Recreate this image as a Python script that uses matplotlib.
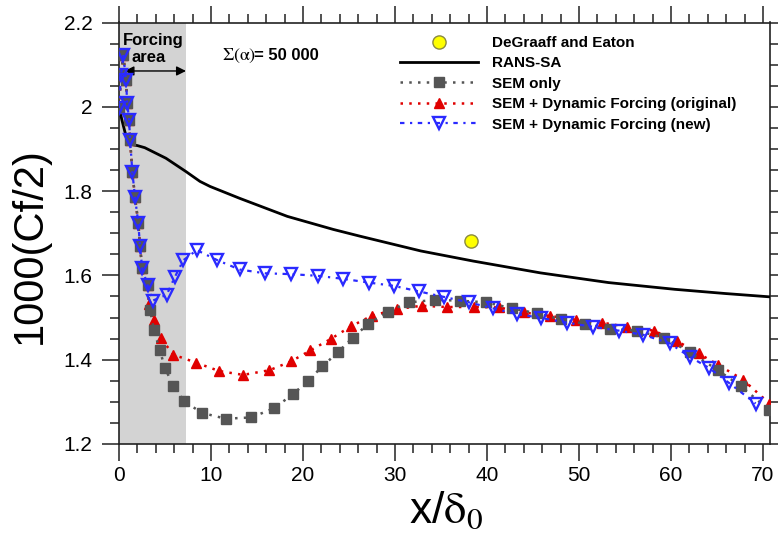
import matplotlib
matplotlib.use("Agg")
import matplotlib.pyplot as plt
import numpy as np

plt.rcParams['font.family'] = ['Liberation Sans', 'DejaVu Sans']
plt.rcParams['mathtext.fontset'] = 'stix'

# ---------------- data ----------------
# shared inlet points (all three LES series overlap here)
x_inlet = [0.0, 0.22, 0.47, 0.75, 0.9, 1.1, 1.2, 1.45, 1.74, 2.1, 2.28, 2.52, 3.1]
y_inlet = [1.997, 2.075, 2.123, 2.064, 2.008, 1.969, 1.922, 1.846, 1.785, 1.724, 1.67, 1.617, 1.577]

x_sem = [3.37, 3.8, 4.44, 5.0, 5.9, 7.07, 8.98, 11.6, 14.4, 16.85, 18.9, 20.5, 22.1,
         23.8, 25.4, 27.1, 29.2, 31.5, 34.4, 37.1, 39.9, 42.7, 45.4, 48.0, 50.7,
         53.4, 56.3, 59.2, 62.1, 65.1, 67.6, 70.7]
y_sem = [1.518, 1.471, 1.422, 1.38, 1.338, 1.302, 1.274, 1.26, 1.263, 1.285, 1.318, 1.349, 1.384,
         1.418, 1.452, 1.485, 1.514, 1.536, 1.542, 1.540, 1.536, 1.522, 1.510, 1.496, 1.485,
         1.473, 1.469, 1.452, 1.418, 1.375, 1.337, 1.28]

x_orig = [3.26, 3.8, 4.53, 5.9, 8.38, 10.9, 13.5, 16.35, 18.7, 20.8, 23.0, 25.2, 27.45,
          30.2, 32.9, 35.6, 38.55, 41.3, 44.0, 46.8, 49.65, 52.5, 55.2, 58.1, 60.6,
          63.0, 65.1, 67.8, 70.7]
y_orig = [1.532, 1.494, 1.452, 1.412, 1.393, 1.373, 1.364, 1.375, 1.396, 1.422, 1.449, 1.479, 1.504,
          1.52, 1.528, 1.525, 1.525, 1.524, 1.512, 1.504, 1.495, 1.488, 1.478, 1.469, 1.445,
          1.415, 1.388, 1.353, 1.296]

x_new = [3.66, 5.18, 6.09, 7.0, 8.45, 10.7, 13.1, 15.85, 18.7, 21.6, 24.3, 27.15, 29.9,
         32.6, 35.3, 38.05, 40.6, 43.3, 45.9, 48.65, 51.5, 54.3, 57.0, 59.85, 62.1,
         64.1, 66.3, 69.2]
y_new = [1.54, 1.554, 1.597, 1.636, 1.66, 1.636, 1.614, 1.605, 1.603, 1.599, 1.592, 1.583, 1.575,
         1.562, 1.549, 1.536, 1.522, 1.508, 1.499, 1.488, 1.478, 1.469, 1.459, 1.439, 1.406,
         1.381, 1.345, 1.296]

x_rans = [0.0, 0.3, 0.65, 1.0, 1.5, 2.0, 2.8, 5.1, 7.3, 8.8, 9.9, 13.1, 18.3, 23.3, 26.2,
          32.8, 38.5, 45.8, 53.2, 60.4, 65.9, 70.8]
y_rans = [2.0, 1.97, 1.94, 1.915, 1.91, 1.908, 1.903, 1.878, 1.846, 1.823, 1.811, 1.783, 1.74,
          1.709, 1.693, 1.658, 1.634, 1.606, 1.583, 1.567, 1.557, 1.549]

x_exp = [38.26]
y_exp = [1.682]

forcing_end = 7.28
labels = ["DeGraaff and Eaton", "RANS-SA", "SEM only",
          "SEM + Dynamic Forcing (original)", "SEM + Dynamic Forcing (new)"]

# ---------------- figure ----------------
fig = plt.figure(figsize=(7.78, 5.33), dpi=100)
ax = fig.add_axes([119/778, 1-444/533, (770-119)/778, (444-22.5)/533])
ax.set_xlim(0, 70.76)
ax.set_ylim(1.2, 2.2)

ax.axvspan(0, forcing_end, color='#d3d3d3', zorder=0, lw=0)

gray = '#555555'
red = '#e00000'
blue = '#2a2aff'

h_exp, = ax.plot(x_exp, y_exp, 'o', ms=9.5, mfc='#ffff00', mec='#8a8a40', mew=1.0,
                 ls='none', zorder=6)
h_rans, = ax.plot(x_rans, y_rans, '-', color='black', lw=2.0, zorder=3)
h_orig, = ax.plot(x_inlet + x_orig, y_inlet + y_orig, ls=(0, (1, 2.5)), lw=1.8, color=red,
                  marker='^', ms=7.5, mfc=red, mec=red, zorder=4)
h_sem, = ax.plot(x_inlet + x_sem, y_inlet + y_sem, ls=(0, (1, 2.5)), lw=1.8, color=gray,
                 marker='s', ms=6.5, mfc=gray, mec=gray, zorder=4.5)
h_new, = ax.plot(x_inlet + x_new, y_inlet + y_new, ls=(0, (2, 2.5, 1, 2.5)), lw=1.6, color=blue,
                 marker='v', ms=8.3, mfc='none', mec=blue, mew=1.7, zorder=5)

# ticks
ax.set_xticks(np.arange(0, 71, 10))
ax.set_xticks(np.arange(0, 71, 2), minor=True)
ax.set_yticks(np.arange(1.2, 2.21, 0.2))
ax.set_yticks(np.arange(1.2, 2.21, 0.05), minor=True)
ax.set_yticklabels(['1.2', '1.4', '1.6', '1.8', '2', '2.2'])
ax.tick_params(which='both', direction='out', top=True, right=True, width=1.2, color='#333333')
ax.tick_params(which='major', length=12, labelsize=15)
ax.tick_params(which='minor', length=6.5)
ax.tick_params(axis='y', which='major', pad=7)
ax.tick_params(axis='x', which='major', pad=4)
for s in ax.spines.values():
    s.set_linewidth(1.2)
    s.set_color('#222222')

# labels
fig.text(30/778, 1-246/533, '1000(Cf/2)', rotation=90, fontsize=30, ha='center', va='center')
fig.text(446/778, 1-523/533, r'x/$\mathrm{\delta}_0$', fontsize=32, ha='center', va='baseline')

# annotations
ax.text(0.45, 2.158, 'Forcing', fontsize=12, fontweight='bold', ha='left', va='center')
ax.text(1.4, 2.116, 'area', fontsize=12, fontweight='bold', ha='left', va='center')
ax.annotate('', xy=(0.6, 2.085), xytext=(forcing_end, 2.085),
            arrowprops=dict(arrowstyle='<|-|>', color='black', lw=1.0,
                            mutation_scale=14, shrinkA=0, shrinkB=0))
ax.text(11.2, 2.121, r'$\Sigma(\mathrm{\alpha})$', fontsize=13, ha='left', va='center')
ax.text(14.7, 2.121, '= 50 000', fontsize=12, fontweight='bold', ha='left', va='center')

leg = ax.legend([h_exp, h_rans, h_sem, h_orig, h_new], labels,
                loc='upper left', bbox_to_anchor=(400/778, 1-36/533),
                bbox_transform=fig.transFigure, frameon=False,
                prop=dict(size=11, weight='bold'), numpoints=1,
                handlelength=5.1, handletextpad=0.9, labelspacing=0.42,
                borderpad=0, borderaxespad=0)

fig.savefig('out.png', dpi=100)
